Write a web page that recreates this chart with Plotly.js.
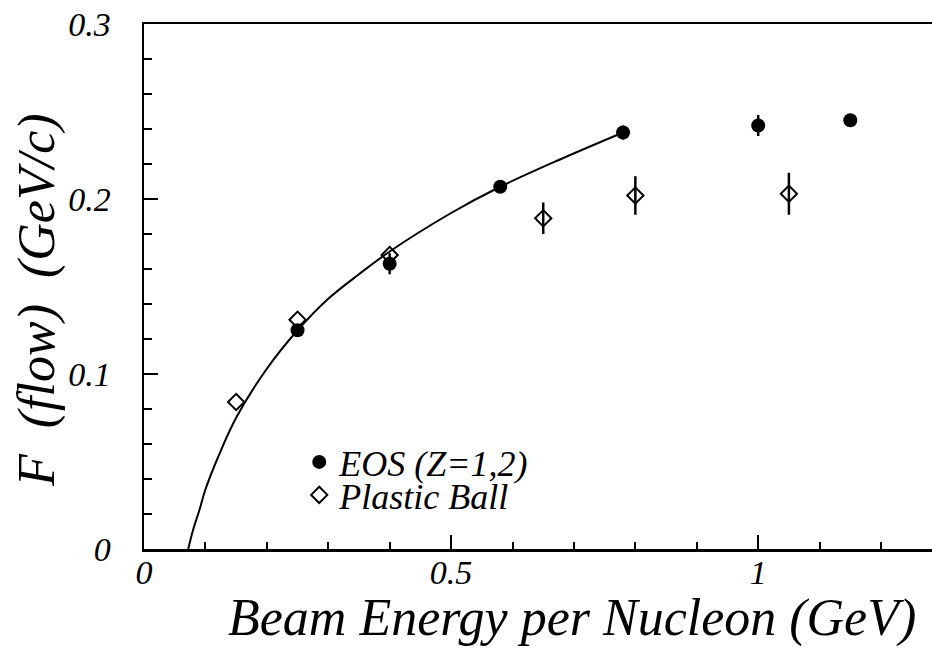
<!DOCTYPE html>
<html>
<head>
<meta charset="utf-8">
<script src="https://cdn.plot.ly/plotly-3.0.1.min.js"></script>
<style>html,body{margin:0;padding:0;background:#fff;}#chart{width:932px;height:648px;}</style>
</head>
<body>
<div id="chart"></div>
<script>
// EOS (Z=1,2) data
const eosEnergy = [0.25, 0.40, 0.58, 0.78, 1.00, 1.15];
const eosFlow   = [0.125, 0.163, 0.207, 0.238, 0.242, 0.245];
const eosErr    = [0.002, 0.006, 0.002, 0.004, 0.006, 0.002];

// Plastic Ball data
const pbEnergy = [0.15, 0.25, 0.40, 0.65, 0.80, 1.05];
const pbFlow   = [0.084, 0.131, 0.168, 0.189, 0.202, 0.203];
const pbErr    = [0.0, 0.0, 0.0, 0.009, 0.011, 0.012];

// Curve
const curveEnergy = [0.072, 0.08, 0.09, 0.10, 0.12, 0.15, 0.20, 0.25, 0.30, 0.35, 0.40, 0.50, 0.58, 0.68, 0.78];
const curveFlow   = [0.0, 0.011, 0.022, 0.034, 0.052, 0.075, 0.103, 0.125, 0.143, 0.157, 0.170, 0.192, 0.207, 0.223, 0.238];

const xTickVals = [0, 0.5, 1];
const xTickText = ['0', '0.5', '1'];
const yTickVals = [0, 0.1, 0.2, 0.3];
const yTickText = ['0', '0.1', '0.2', '0.3'];

const serif = 'Liberation Serif';
const legendFont = {family: serif, size: 36, style: 'italic', color: '#000'};

const traces = [
  {
    x: curveEnergy, y: curveFlow, mode: 'lines', type: 'scatter',
    line: {color: '#000', width: 2, shape: 'spline'},
    showlegend: false, hoverinfo: 'skip'
  },
  {
    x: pbEnergy, y: pbFlow, mode: 'markers', type: 'scatter', name: 'Plastic Ball', legend: 'legend2',
    marker: {symbol: 'diamond-open', size: 12.5, color: '#000', line: {color: '#000', width: 2}},
    error_y: {type: 'data', array: pbErr, visible: true, color: '#000', thickness: 2.5, width: 0}
  },
  {
    x: eosEnergy, y: eosFlow, mode: 'markers', type: 'scatter', name: 'EOS (Z=1,2)', legend: 'legend',
    marker: {symbol: 'circle', size: 14, color: '#000'},
    error_y: {type: 'data', array: eosErr, visible: true, color: '#000', thickness: 2.5, width: 0}
  }
];

const layout = {
  width: 932, height: 648,
  margin: {l: 144, r: 0, t: 24, b: 99, pad: 0},
  paper_bgcolor: '#fff', plot_bgcolor: '#fff',
  font: {family: serif, color: '#000'},
  showlegend: true,
  legend: {
    x: 0.197, y: 0.1657, xanchor: 'left', yanchor: 'middle',
    font: legendFont, bgcolor: 'rgba(0,0,0,0)', borderwidth: 0, itemwidth: 30
  },
  legend2: {
    x: 0.197, y: 0.1029, xanchor: 'left', yanchor: 'middle',
    font: legendFont, bgcolor: 'rgba(0,0,0,0)', borderwidth: 0, itemwidth: 30
  },
  xaxis: {
    range: [0, 1.283], showgrid: false, zeroline: false,
    showline: true, linecolor: '#000', linewidth: 2.5, mirror: true,
    ticks: 'inside', ticklen: 14, tickwidth: 2, tickcolor: '#000',
    tickmode: 'array', tickvals: xTickVals, ticktext: xTickText,
    tickfont: {family: serif, size: 34, style: 'italic', color: '#000'},
    ticklabelstandoff: -8,
    minor: {dtick: 0.1, ticks: 'inside', ticklen: 7, tickwidth: 2, tickcolor: '#000', showgrid: false}
  },
  yaxis: {
    range: [0, 0.3], showgrid: false, zeroline: false,
    showline: true, linecolor: '#000', linewidth: 2.5, mirror: false,
    ticks: 'inside', ticklen: 14, tickwidth: 2, tickcolor: '#000',
    tickmode: 'array', tickvals: yTickVals, ticktext: yTickText,
    tickfont: {family: serif, size: 34, style: 'italic', color: '#000'},
    ticklabelstandoff: 24,
    minor: {dtick: 0.02, ticks: 'inside', ticklen: 8, tickwidth: 2, tickcolor: '#000', showgrid: false}
  },
  annotations: [
    {
      text: 'Beam Energy per Nucleon (GeV)', xref: 'paper', yref: 'paper',
      x: 0.543, y: -0.131, xanchor: 'center', yanchor: 'middle', showarrow: false,
      font: {family: serif, size: 52, style: 'italic', color: '#000'}
    },
    {
      text: 'F\u00a0 (flow)\u00a0 (GeV/c)', xref: 'paper', yref: 'paper',
      x: -0.136, y: 0.474, xanchor: 'center', yanchor: 'middle', showarrow: false, textangle: -90,
      font: {family: serif, size: 52, style: 'italic', color: '#000'}
    }
  ]
};

Plotly.newPlot('chart', traces, layout, {displayModeBar: false, staticPlot: true});
</script>
</body>
</html>
